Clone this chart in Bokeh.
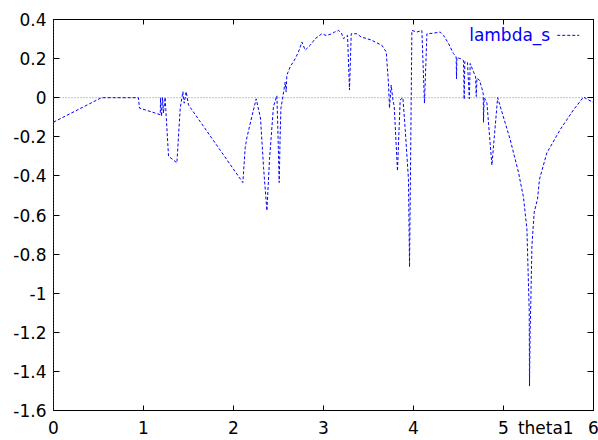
from bokeh.plotting import figure
from bokeh.models import (Range1d, FixedTicker, LinearAxis, Span, Label, ColumnDataSource,
                          CustomLabelingPolicy)
from bokeh.embed import file_html
from bokeh.resources import INLINE

theta1 = [0.0, 0.533, 0.6, 0.944, 0.955, 1.186, 1.19, 1.2, 1.212, 1.222, 1.24,
          1.278, 1.371, 1.408, 1.438, 1.452, 1.474, 1.5,
          2.104, 2.13, 2.148, 2.204, 2.252, 2.3, 2.334, 2.371,
          2.4, 2.444, 2.482, 2.495, 2.508, 2.518, 2.527, 2.549, 2.574, 2.585, 2.593,
          2.63, 2.686, 2.722, 2.76, 2.797, 2.852, 2.908, 2.982, 3.03, 3.093, 3.12,
          3.167, 3.2, 3.222, 3.267, 3.289, 3.308, 3.371, 3.42, 3.482, 3.53, 3.574,
          3.649, 3.697, 3.722, 3.733, 3.752, 3.771, 3.786, 3.822, 3.852, 3.882,
          3.908, 3.944, 3.956, 3.982, 4.038, 4.093, 4.122, 4.149, 4.22, 4.297,
          4.333, 4.389, 4.444, 4.474, 4.478, 4.482, 4.52, 4.556, 4.563, 4.57,
          4.6, 4.62, 4.63, 4.66, 4.69, 4.697, 4.705, 4.733, 4.76, 4.775, 4.778,
          4.785, 4.8, 4.816, 4.871, 4.935,
          5.074, 5.167, 5.222, 5.26, 5.286, 5.289, 5.296, 5.305, 5.316, 5.341,
          5.378, 5.4, 5.482, 5.63, 5.778, 5.889, 6.0]
lambda_s = [-0.125, 0.0, 0.0, 0.0, -0.053, -0.087, 0.0, -0.096, 0.0, -0.079, 0.002,
            -0.299, -0.333, -0.053, 0.031, -0.028, 0.031, -0.037,
            -0.434, -0.256, -0.206, -0.096, -0.006, -0.104, -0.358, -0.578,
            -0.316, -0.045, 0.01, -0.2, -0.434, -0.2, -0.053, 0.005, 0.08, 0.03, 0.116,
            0.158, 0.2, 0.234, 0.285, 0.243, 0.268, 0.302, 0.327, 0.318, 0.327, 0.335,
            0.344, 0.33, 0.302, 0.319, 0.04, 0.327, 0.327, 0.31, 0.302, 0.295, 0.285,
            0.268, 0.234, 0.074, -0.053, 0.065, -0.011, -0.045, -0.375, -0.011, 0.0,
            -0.163, -0.417, -0.866, 0.344, 0.336, 0.344, -0.028, 0.327, 0.33, 0.336,
            0.319, 0.277, 0.226, 0.209, 0.097, 0.205, 0.2, 0.19, -0.008, 0.185,
            0.18, -0.005, 0.175, 0.14, 0.107, 0.006, 0.1, 0.09, 0.048, 0.02, -0.126,
            0.0, -0.01, -0.028, -0.345, 0.0,
            -0.214, -0.383, -0.51, -0.671, -1.094, -1.475, -1.2, -1.01, -0.756, -0.586,
            -0.519, -0.417, -0.282, -0.163, -0.062, 0.003, -0.025]

x_ticks = [0, 1, 2, 3, 4, 5, 6]
y_ticks = [-1.6, -1.4, -1.2, -1.0, -0.8, -0.6, -0.4, -0.2, 0.0, 0.2, 0.4]
y_tick_labels = ["-1.6", "-1.4", "-1.2", "-1", "-0.8", "-0.6", "-0.4", "-0.2", "0", "0.2", "0.4"]
x_label = "theta1"
series_name = "lambda_s"

FONT = "DejaVu Sans"
FS = "17px"
BLUE = "#0000ff"
XLABEL_AT = 5.47  # gnuplot places the x label right of the "5" tick

p = figure(width=598, height=440, x_range=Range1d(0, 6), y_range=Range1d(-1.6, 0.4),
           output_backend="svg", toolbar_location=None, x_axis_location=None,
           min_border_left=53, min_border_right=5, min_border_top=19, min_border_bottom=27)
p.grid.visible = False
p.outline_line_color = "black"
p.outline_line_width = 1
p.background_fill_color = "white"
p.border_fill_color = "white"

no_labels = CustomLabelingPolicy(code="return []")

# left axis with labels
p.yaxis.ticker = FixedTicker(ticks=y_ticks)
p.yaxis.major_label_overrides = {t: s for t, s in zip(y_ticks, y_tick_labels)}
p.yaxis.major_tick_in = 6
p.yaxis.major_tick_out = 0
p.yaxis.minor_tick_line_color = None
p.yaxis.major_label_text_font = FONT
p.yaxis.major_label_text_font_size = FS
p.yaxis.major_label_text_color = "black"
p.yaxis.major_label_standoff = 7
p.yaxis.axis_line_color = "black"

# bottom: tick marks only
xticks_axis = LinearAxis(ticker=FixedTicker(ticks=x_ticks), major_tick_in=5, major_tick_out=0,
                         minor_tick_line_color=None, major_label_policy=no_labels,
                         major_label_text_font_size="0px", major_label_standoff=0,
                         axis_line_color="black")
# bottom: labels only (tick labels plus the x label next to "5")
xlabels_axis = LinearAxis(ticker=FixedTicker(ticks=x_ticks + [XLABEL_AT]),
                          major_label_overrides={XLABEL_AT: x_label},
                          major_tick_in=0, major_tick_out=0, major_tick_line_color=None,
                          minor_tick_line_color=None, axis_line_color=None,
                          major_label_text_font=FONT, major_label_text_font_size=FS,
                          major_label_text_color="black", major_label_standoff=7)
p.add_layout(xticks_axis, "below")
p.add_layout(xlabels_axis, "below")

# mirrored ticks (gnuplot border tics)
top = LinearAxis(ticker=FixedTicker(ticks=x_ticks), major_tick_in=5, major_tick_out=0,
                 minor_tick_line_color=None, major_label_policy=no_labels,
                 major_label_text_font_size="0px", major_label_standoff=0,
                 axis_line_color="black")
right = LinearAxis(ticker=FixedTicker(ticks=y_ticks), major_tick_in=6, major_tick_out=0,
                   minor_tick_line_color=None, major_label_policy=no_labels,
                   major_label_text_font_size="0px", major_label_standoff=0,
                   axis_line_color="black")
p.add_layout(top, "above")
p.add_layout(right, "right")

p.add_layout(Span(location=0, dimension="width", line_color="#808080",
                  line_dash="1 2", line_width=1, level="underlay"))
p.add_layout(Span(location=0, dimension="height", line_color="#808080",
                  line_dash="1 2", line_width=1))

src = ColumnDataSource(dict(x=theta1, y=lambda_s))
p.line("x", "y", source=src, line_color=BLUE, line_width=1, line_dash="3 2")

# legend (gnuplot style: text then sample)
p.add_layout(Label(x=5.519, y=0.319, text=series_name, text_align="right",
                   text_baseline="middle", text_font=FONT, text_font_size=FS,
                   text_color=BLUE))
p.segment(x0=[5.597], y0=[0.319], x1=[5.841], y1=[0.319], line_color=BLUE,
          line_width=1, line_dash="3 2")

open("out.html", "w").write(file_html(p, INLINE))
